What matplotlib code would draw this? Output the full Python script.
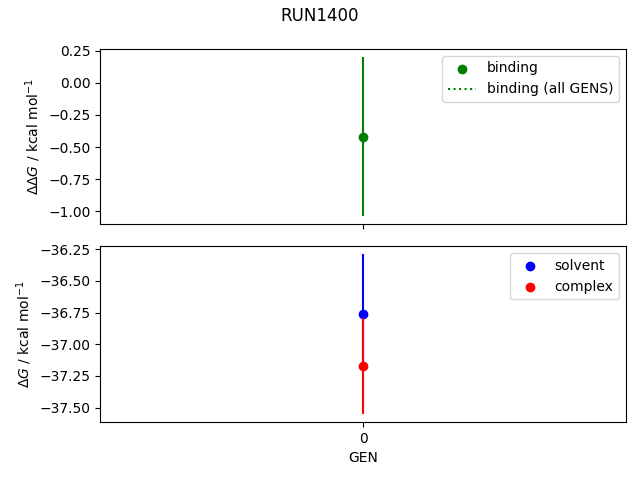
import matplotlib
matplotlib.use("Agg")
import matplotlib.pyplot as plt

title = "RUN1400"
gens = [0]
binding = [-0.42]
binding_err = [0.62]
binding_all = [-0.42]
solvent = [-36.76]
solvent_err = [0.47]
complex_ = [-37.17]
complex_err = [0.38]

fig, axes = plt.subplots(2, 1, sharex=True, figsize=(6.4, 4.8), dpi=100)
ax = axes[0]
ax.errorbar(gens, binding, yerr=binding_err, color="green", fmt="none")
ax.scatter(gens, binding, color="green", label="binding")
ax.plot(gens, binding_all, ":", color="green", label="binding (all GENS)")
ax.set_ylabel(r"$\Delta\Delta G$ / kcal mol$^{-1}$")
ax.legend()

ax = axes[1]
ax.errorbar(gens, solvent, yerr=solvent_err, color="blue", fmt="none")
ax.scatter(gens, solvent, color="blue", label="solvent")
ax.errorbar(gens, complex_, yerr=complex_err, color="red", fmt="none")
ax.scatter(gens, complex_, color="red", label="complex")
ax.set_ylabel(r"$\Delta G$ / kcal mol$^{-1}$")
ax.set_xlabel("GEN")
ax.set_xticks(gens)
ax.legend()

fig.suptitle(title, y=0.985)
fig.subplots_adjust(left=0.157, right=0.978, top=0.898, bottom=0.121, hspace=0.125)
fig.savefig("out.png")
